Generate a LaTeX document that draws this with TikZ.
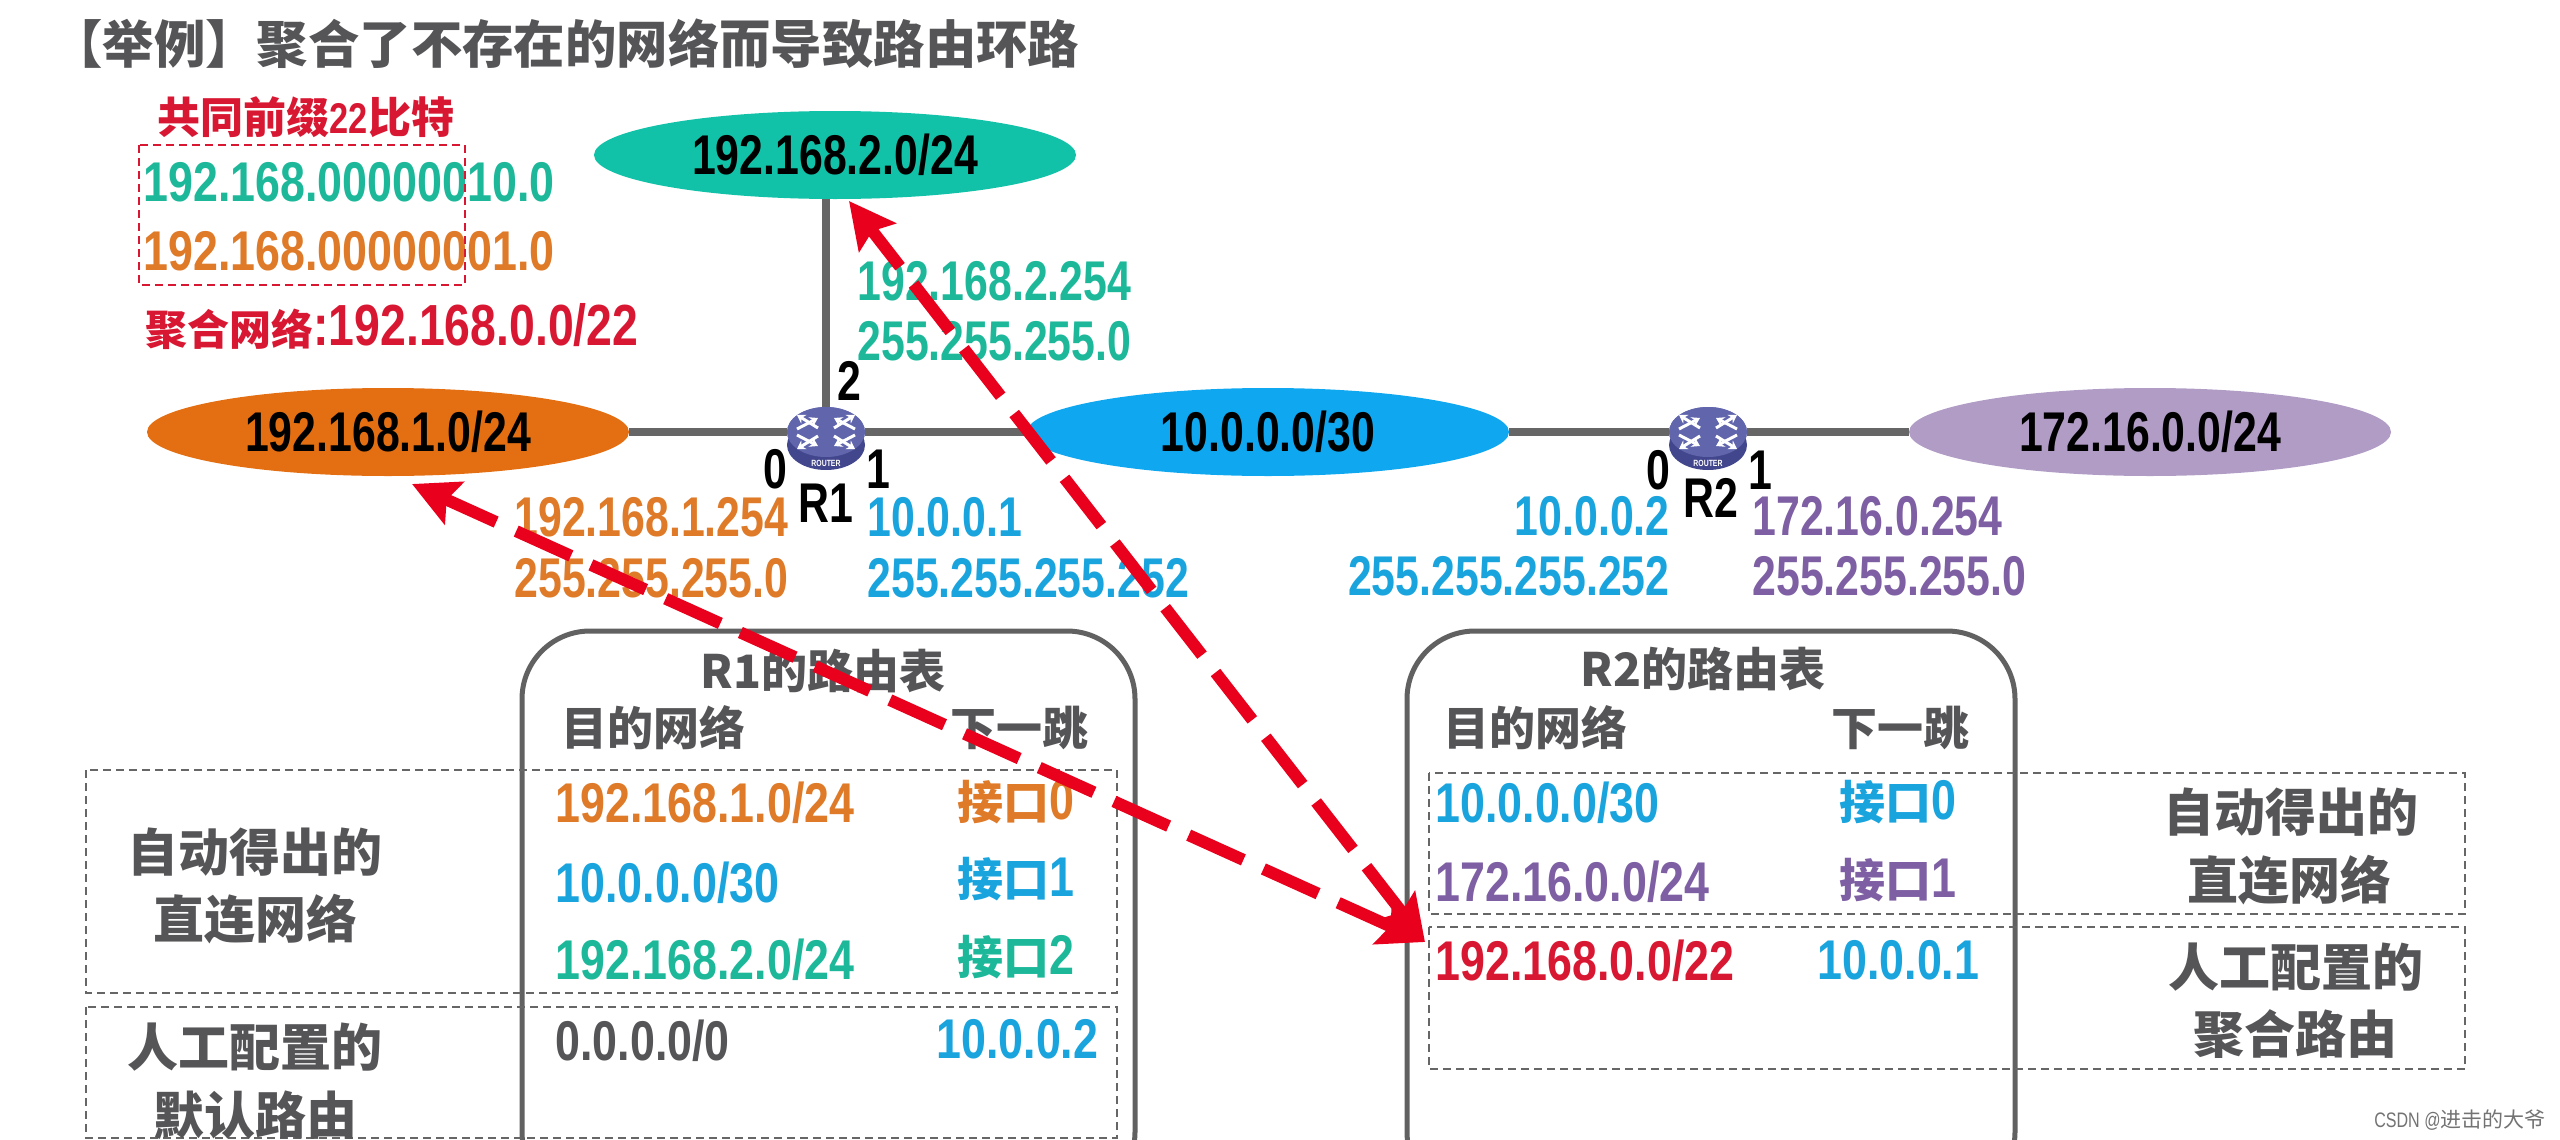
\documentclass[tikz,border=0pt]{standalone}
\usepackage{fontspec}
\setmainfont{Liberation Sans}[FakeStretch=0.765]
\newfontfamily\wide{Liberation Sans}[FakeStretch=0.8]
\newfontfamily\cjk{Noto Sans CJK SC}
\usetikzlibrary{arrows.meta,shapes.geometric,calc}
\definecolor{teal1}{RGB}{18,194,168}
\definecolor{teal2}{RGB}{29,184,154}
\definecolor{orange1}{RGB}{227,111,18}
\definecolor{orange2}{RGB}{222,122,40}
\definecolor{blue1}{RGB}{15,168,240}
\definecolor{blue2}{RGB}{26,164,222}
\definecolor{lilac}{RGB}{177,156,198}
\definecolor{purple2}{RGB}{126,95,163}
\definecolor{grey1}{RGB}{85,85,88}
\definecolor{red1}{RGB}{216,24,50}
\definecolor{red2}{RGB}{232,0,28}
\definecolor{rtrtop}{RGB}{96,101,172}
\definecolor{rtrbot}{RGB}{66,70,140}
\newcommand{\zh}[1]{{\cjk\bfseries #1}}
\newcommand{\zhs}[1]{{\cjk\fontsize{23pt}{26pt}\bfseries\selectfont #1}}
\newcommand{\lab}{\fontsize{28pt}{30pt}\bfseries\selectfont}
\newcommand{\widelab}{\wide\fontsize{28pt}{30pt}\bfseries\selectfont}
\tikzset{
  net/.style={ellipse,minimum width=241pt,minimum height=44pt,inner sep=0pt,font=\lab},
  txt/.style={inner sep=0pt,font=\lab},
  ip/.style={txt,anchor=west},
  ipr/.style={txt,anchor=east},
  cell/.style={ip,font=\widelab},
  port/.style={txt,black},
  head/.style={txt,grey1,font=\fontsize{25.5pt}{30pt}\selectfont},
  thead/.style={txt,grey1,font=\fontsize{23pt}{26pt}\selectfont},
  link/.style={draw=black!60,line width=4pt},
  tbl/.style={draw=black!62,line width=2.5pt,rounded corners=34pt},
  grp/.style={draw=black!60,line width=0.9pt,dash pattern=on 4pt off 2.5pt},
  rtrface/.style={ellipse,fill=rtrtop,minimum width=39pt,minimum height=25pt,inner sep=0pt},
  rtrbase/.style={ellipse,fill=rtrbot,minimum width=39pt,minimum height=25pt,inner sep=0pt},
  rtrarrow/.style={draw=white,line width=1.5pt,-{Stealth[length=4pt,width=5pt]}},
  loop/.style={draw=red2,line width=6pt,dash pattern=on 30pt off 11pt,
    {Stealth[length=23pt,width=23pt,inset=4pt]}-{Stealth[length=23pt,width=23pt,inset=4pt]}},
}
\newcommand{\rtricon}[1]{%
  \node[rtrbase] (#1base) at ($(#1)+(0,13)$) {};
  \node[rtrface] (#1face) at (#1) {};
  \foreach \sx/\sy in {1/1,1/-1,-1/1,-1/-1}{
    \draw[rtrarrow] ($(#1)+(\sx*8,\sy*4)$) -- ($(#1)+(\sx*29,\sy*17)$);
    \draw[rtrarrow] ($(#1)+(\sx*29,\sy*3)$) -- ($(#1)+(\sx*8,\sy*14)$);
  }
  \node[inner sep=0pt,white,font=\fontsize{4.5pt}{5pt}\bfseries\selectfont] (#1tag) at ($(#1)+(0,31)$) {ROUTER};
}
\begin{document}
\begin{tikzpicture}[x=0.5pt,y=-0.5pt]
\path[use as bounding box,clip] (0,0) rectangle (2560,1140);
\node[txt,anchor=west,grey1,font=\fontsize{25.7pt}{30pt}\selectfont] (title) at (51,44)
  {\zh{【举例】聚合了不存在的网络而导致路由环路}};
% networks
\node[net,fill=teal1] (net2) at (835,155) {192.168.2.0/24};
\node[net,fill=orange1] (net1) at (388,432) {192.168.1.0/24};
\node[net,fill=blue1] (net3) at (1268,432) {10.0.0.0/30};
\node[net,fill=lilac] (net4) at (2150,432) {172.16.0.0/24};
\node[rtrface] (r1) at (826,432) {};
\node[rtrface] (r2) at (1708,432) {};
\draw[link] (net1) -- (r1);
\draw[link] (r1) -- (net3);
\draw[link] (net3) -- (r2);
\draw[link] (r2) -- (net4);
\draw[link] (r1 |- net2.south) -- (r1);
\rtricon{r1}
\rtricon{r2}
% ports
\node[port] (p12) at (849,381) {2};
\node[port] (p10) at (775,469) {0};
\node[port] (p11) at (878,469) {1};
\node[port] (r1n) at (826,503) {R1};
\node[port] (p20) at (1658,470) {0};
\node[port] (p21) at (1760,470) {1};
\node[port] (r2n) at (1711,498) {R2};
% prefix note
\node[txt,red1,font=\wide\fontsize{21.5pt}{24pt}\bfseries\selectfont] (pfx) at (306,117) {\zh{共同前缀}22\zh{比特}};
\node[cell,teal2] (b2) at (143,182) {192.168.00000010.0};
\node[cell,orange2] (b1) at (143,251) {192.168.00000001.0};
\draw[red1,line width=0.9pt,dash pattern=on 4pt off 2.5pt] (139,145) rectangle (465,285);
\node[ip,red1,font=\wide\fontsize{29pt}{30pt}\bfseries\selectfont] (agg) at (145,327)
  {{\cjk\fontsize{21pt}{24pt}\bfseries\selectfont 聚合网络}:192.168.0.0/22};
% interface addresses
\node[ip,teal2] (a21) at (857,281) {192.168.2.254};
\node[ip,teal2] (a22) at (857,341) {255.255.255.0};
\node[ip,orange2] (a11) at (514,517) {192.168.1.254};
\node[ip,orange2] (a12) at (514,578) {255.255.255.0};
\node[ip,blue2] (a31) at (867,517) {10.0.0.1};
\node[ip,blue2] (a32) at (867,578) {255.255.255.252};
\node[ipr,blue2] (a41) at (1670,516) {10.0.0.2};
\node[ipr,blue2] (a42) at (1670,576) {255.255.255.252};
\node[ip,purple2] (a51) at (1752,516) {172.16.0.254};
\node[ip,purple2] (a52) at (1752,576) {255.255.255.0};
% R1 table
\draw[tbl] (522,631) rectangle (1135,1200);
\draw[grp] (86,770) rectangle (1117,993);
\draw[grp] (86,1007) rectangle (1117,1138);
\node[thead] (t1) at (823,671) {\zh{R1的路由表}};
\node[thead] (t1d) at (653,728) {\zh{目的网络}};
\node[thead] (t1h) at (1019,728) {\zh{下一跳}};
\node[cell,orange2] (t1a) at (555,803) {192.168.1.0/24};
\node[cell,blue2] (t1b) at (555,883) {10.0.0.0/30};
\node[cell,teal2] (t1c) at (555,960) {192.168.2.0/24};
\node[cell,grey1] (t1e) at (555,1041) {0.0.0.0/0};
\node[cell,orange2] (t1f) at (957,802) {\zhs{接口}0};
\node[cell,blue2] (t1g) at (957,879) {\zhs{接口}1};
\node[cell,teal2] (t1i) at (957,957) {\zhs{接口}2};
\node[cell,blue2] (t1j) at (936,1039) {10.0.0.2};
\node[head] (l1) at (255,852) {\zh{自动得出的}};
\node[head] (l2) at (255,919) {\zh{直连网络}};
\node[head] (l3) at (255,1047) {\zh{人工配置的}};
\node[head] (l4) at (255,1115) {\zh{默认路由}};
% R2 table
\draw[tbl] (1407,631) rectangle (2015,1200);
\draw[grp] (1429,773) rectangle (2465,914);
\draw[grp] (1429,927) rectangle (2465,1069);
\node[thead] (t2) at (1703,669) {\zh{R2的路由表}};
\node[thead] (t2d) at (1535,728) {\zh{目的网络}};
\node[thead] (t2h) at (1900,728) {\zh{下一跳}};
\node[cell,blue2] (t2a) at (1435,803) {10.0.0.0/30};
\node[cell,purple2] (t2b) at (1435,882) {172.16.0.0/24};
\node[cell,red1] (t2c) at (1435,961) {192.168.0.0/22};
\node[cell,blue2] (t2f) at (1839,802) {\zhs{接口}0};
\node[cell,purple2] (t2g) at (1839,880) {\zhs{接口}1};
\node[cell,blue2] (t2i) at (1817,960) {10.0.0.1};
\node[head] (m1) at (2291,812) {\zh{自动得出的}};
\node[head] (m2) at (2289,880) {\zh{直连网络}};
\node[head] (m3) at (2296,967) {\zh{人工配置的}};
\node[head] (m4) at (2295,1034) {\zh{聚合路由}};
\node[txt,anchor=east,black!55,font=\fontsize{10.5pt}{14pt}\selectfont] (mark) at (2546,1120) {CSDN @{\cjk 进击的大爷}};
% loop arrows
\coordinate (tipa) at (1425,942);
\coordinate (tipb) at (849,201);
\coordinate (tipc) at (412,484);
\draw[loop] (tipa) -- (tipb);
\draw[loop] (tipa) -- (tipc);
\end{tikzpicture}
\end{document}
